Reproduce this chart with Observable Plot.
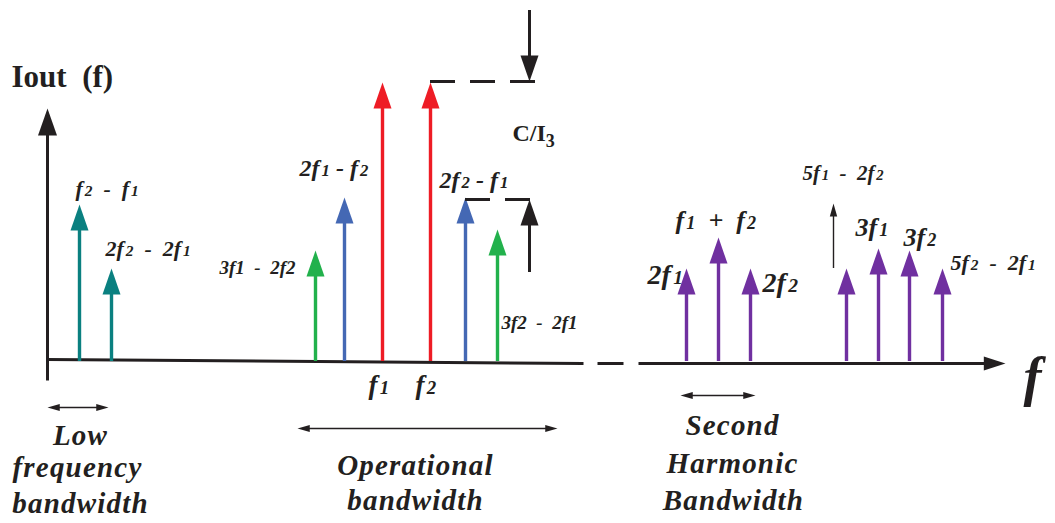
<!DOCTYPE html>
<html>
<head>
<meta charset="utf-8">
<script src="https://cdn.jsdelivr.net/npm/d3@7"></script>
<script src="https://cdn.jsdelivr.net/npm/@observablehq/plot@0.6"></script>
<style>
  html, body { margin: 0; padding: 0; background: #fff; }
  svg { display: block; }
</style>
</head>
<body>
<div id="chart"></div>
<script>
// ---- Spectral tones (frequency position, amplitude level above baseline, group) ----
const toneFreq  = [79, 111, 315, 344, 382, 430, 465, 497, 686, 718, 750, 846, 878, 909, 942];
const toneLevel = [157, 93, 111, 164, 279, 279, 164, 132, 93, 124, 93, 93, 113, 111, 93];
const toneGroup = ["low", "low", "im5", "im3", "carrier", "carrier", "im3", "im5",
                   "harmonic", "harmonic", "harmonic", "harmonic", "harmonic", "harmonic", "harmonic"];
const groupNames  = ["low", "im5", "im3", "carrier", "harmonic"];
const groupColors = ["#0a8080", "#22b14c", "#4468b4", "#ee1c25", "#7030a0"];

// thin 5f1-2f2 marker tone
const thinFreq = [833];
const thinFrom = [93];
const thinLevel = [158];

// C/I3 reference levels (dashed)
const refLevel = [280, 162];
const refFrom  = [430, 465];
const refTo    = [537, 530];

// C/I3 measurement arrows: [from, to]
const ciArrowX    = [529, 529];
const ciArrowFrom = [351, 89];
const ciArrowTo   = [280, 162];

// axes
const axisX1 = [47, 47, 597, 638];
const axisY1 = [-19, 2, -2, -2];
const axisX2 = [47, 583, 623, 992];
const axisY2 = [243, -2, -2, -2];

// bandwidth spans
const bandFrom  = [47, 297, 680];
const bandTo    = [108, 557, 755];
const bandLevel = [-46, -67, -34];

// tone labels ("_" marks a small numeral)
const E = "\u2002";
const labelText = ["f_2" + E + "-" + E + "f_1", "2f_2" + E + "-" + E + "2f_1", "3f1" + E + "-" + E + "2f2",
                   "2f_1 - f_2", "2f_2 - f_1", "3f2" + E + "-" + E + "2f1",
                   "f_1", "f_2", "5f_1" + E + "-" + E + "2f_2", "f_1" + E + "+" + E + "f_2",
                   "2f_1", "2f_2", "3f_1", "3f_2", "5f_2" + E + "-" + E + "2f_1", "f"];
const labelF    = [75, 105, 219, 299, 439, 501, 368, 415, 802, 675, 647, 762, 855, 903, 950, 1023];
const labelLev  = [173, 113, 94, 193, 181, 39, -24, -24, 188, 141, 86, 78, 134, 124, 99, -16];
const labelSize = [22, 22, 19, 24, 24, 19, 27, 27, 21, 26, 28, 28, 26, 26, 22, 54];

// bandwidth captions
const capText = ["Low", "frequency", "bandwidth", "Operational", "bandwidth", "Second", "Harmonic", "Bandwidth"];
const capF    = [80, 77, 80, 415, 415, 732, 732, 733];
const capLev  = [-74, -106, -142, -104, -139, -64, -102, -139];

const titleText = ["Iout\u00a0\u00a0(f)"];
const ciText = ["C/I_3"];

// ---- build tables ----
const tones = toneFreq.map((f, i) => ({f, level: toneLevel[i], group: toneGroup[i]}));
const thin = thinFreq.map((f, i) => ({f, from: thinFrom[i], level: thinLevel[i]}));
const refs = refLevel.map((l, i) => ({level: l, x1: refFrom[i], x2: refTo[i]}));
const ciArrows = ciArrowX.map((x, i) => ({x, from: ciArrowFrom[i], to: ciArrowTo[i]}));
const axes = axisX1.map((x, i) => ({x1: x, y1: axisY1[i], x2: axisX2[i], y2: axisY2[i]}));
const bands = bandFrom.map((a, i) => ({x1: a, x2: bandTo[i], level: bandLevel[i]}));
const labels = labelText.map((t, i) => ({t, f: labelF[i], level: labelLev[i], size: labelSize[i]}));
const caps = capText.map((t, i) => ({t, f: capF[i], level: capLev[i]}));

// filled arrow head symbol (tip at origin)
function head(dir, ratio) {
  return {
    draw(ctx, size) {
      const r = Math.sqrt(size / Math.PI), h = r * ratio;
      let p;
      if (dir === "up") p = [[0, 0], [r, h], [-r, h]];
      else if (dir === "down") p = [[0, 0], [r, -h], [-r, -h]];
      else if (dir === "right") p = [[0, 0], [-h, r], [-h, -r]];
      else p = [[0, 0], [h, r], [h, -r]];
      ctx.moveTo(p[0][0], p[0][1]);
      ctx.lineTo(p[1][0], p[1][1]);
      ctx.lineTo(p[2][0], p[2][1]);
      ctx.closePath();
    }
  };
}

const serif = "'Liberation Serif', 'Times New Roman', serif";

const chart = Plot.plot({
  width: 1055,
  height: 523,
  margin: 0,
  x: {domain: [0, 1055], range: [0, 1055], axis: null},
  y: {domain: [-162, 361], range: [523, 0], axis: null},
  color: {domain: groupNames, range: groupColors},
  style: {background: "#fff", overflow: "hidden"},
  marks: [
    // axes
    Plot.link(axes, {x1: "x1", y1: "y1", x2: "x2", y2: "y2", stroke: "#231f20", strokeWidth: 3}),
    Plot.dot([axisX1[0]], {x: d => d, y: () => 253, r: 9.5, fill: "#231f20", stroke: "none", symbol: head("up", 2.85)}),
    Plot.dot([axisX2[3]], {x: () => 1005, y: () => -2, r: 7, fill: "#231f20", stroke: "none", symbol: head("right", 3.1)}),
    // tones
    Plot.ruleX(tones, {x: "f", y1: 0, y2: d => d.level - 12, stroke: "group", strokeWidth: 3.4}),
    Plot.dot(tones, {x: "f", y: "level", fill: "group", stroke: "none", r: 9, symbol: head("up", 2.9)}),
    // thin marker
    Plot.ruleX(thin, {x: "f", y1: "from", y2: d => d.level - 8, stroke: "#231f20", strokeWidth: 1.4}),
    Plot.dot(thin, {x: "f", y: "level", fill: "#231f20", stroke: "none", r: 3.7, symbol: head("up", 3.5)}),
    // dashed reference levels
    Plot.ruleY(refs, {y: "level", x1: "x1", x2: "x2", stroke: "#231f20", strokeWidth: 3, strokeDasharray: "25,15"}),
    // C/I3 arrows
    Plot.ruleX(ciArrows, {x: "x", y1: "from", y2: d => d.to + (d.from > d.to ? 12 : -12), stroke: "#231f20", strokeWidth: 3}),
    Plot.dot(ciArrows.filter(d => d.from > d.to), {x: "x", y: "to", fill: "#231f20", stroke: "none", r: 9, symbol: head("down", 2.9)}),
    Plot.dot(ciArrows.filter(d => d.from < d.to), {x: "x", y: "to", fill: "#231f20", stroke: "none", r: 9, symbol: head("up", 2.9)}),
    // bandwidth spans
    Plot.ruleY(bands, {y: "level", x1: d => d.x1 + 8, x2: d => d.x2 - 8, stroke: "#231f20", strokeWidth: 1.3}),
    Plot.dot(bands, {x: "x1", y: "level", fill: "#231f20", stroke: "none", r: 3.6, symbol: head("left", 3.4)}),
    Plot.dot(bands, {x: "x2", y: "level", fill: "#231f20", stroke: "none", r: 3.6, symbol: head("right", 3.4)}),
    // labels
    Plot.text(labels, {x: "f", y: "level", text: "t", fontSize: "size", textAnchor: "start",
      fontFamily: serif, fontWeight: "bold", fontStyle: "italic", fill: "#231f20"}),
    Plot.text(caps, {x: "f", y: "level", text: "t", fontSize: 29, textAnchor: "middle",
      fontFamily: serif, fontWeight: "bold", fontStyle: "italic", fill: "#231f20"}),
    Plot.text(titleText, {x: () => 11, y: () => 284, text: d => d, fontSize: 31, textAnchor: "start",
      fontFamily: serif, fontWeight: "bold", fill: "#231f20"}),
    Plot.text(ciText, {x: () => 512, y: () => 228, text: d => d, fontSize: 24, textAnchor: "start",
      fontFamily: serif, fontWeight: "bold", fill: "#231f20"})
  ]
});

// rich text: "_" makes the following character a small numeral
const NS = "http://www.w3.org/2000/svg";
chart.querySelectorAll("text").forEach(t => {
  const s = t.textContent;
  if (capText.includes(s)) t.style.letterSpacing = "1.2px";
  if (!s.includes("_")) return;
  const isCI = s === ciText[0];
  while (t.firstChild) t.removeChild(t.firstChild);
  let buf = "";
  const flush = () => {
    if (buf) { const ts = document.createElementNS(NS, "tspan"); ts.textContent = buf; t.appendChild(ts); buf = ""; }
  };
  for (let i = 0; i < s.length; i++) {
    if (s[i] === "_" && i + 1 < s.length) {
      flush();
      const ts = document.createElementNS(NS, "tspan");
      ts.textContent = s[i + 1];
      ts.style.fontSize = isCI ? "75%" : "70%";
      if (isCI) ts.setAttribute("dy", "0.3em");
      else ts.setAttribute("dx", "0.12em");
      t.appendChild(ts);
      i++;
    } else buf += s[i];
  }
  flush();
});

document.getElementById("chart").appendChild(chart);
</script>
</body>
</html>
